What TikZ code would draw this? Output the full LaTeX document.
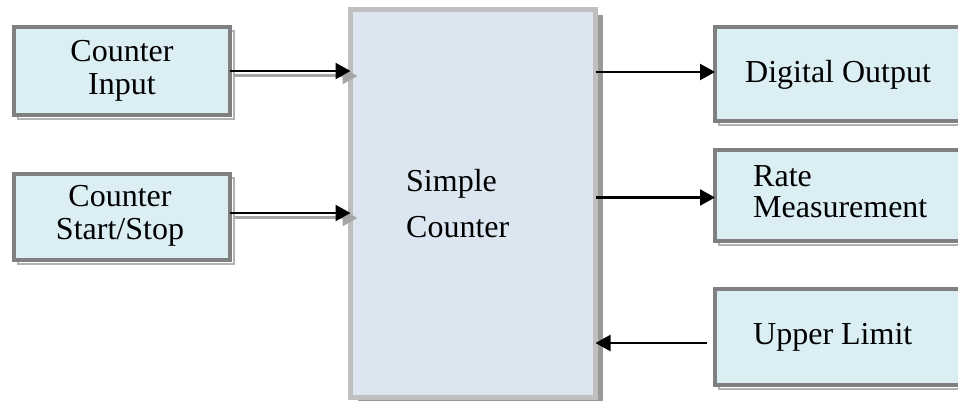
\documentclass[tikz,border=0pt]{standalone}
\usepackage{fontspec}
\setmainfont{Liberation Serif}
\usetikzlibrary{arrows.meta, shadows, calc}

\definecolor{boxfill}{RGB}{218,238,243}
\definecolor{mainfill}{RGB}{220,230,241}

\tikzset{
    iobox/.style={draw=black!50, line width=4pt, fill=boxfill, outer sep=0pt, inner sep=0pt,
        copy shadow={shadow xshift=4pt, shadow yshift=-4pt, draw=black!30, line width=1.5pt, fill=white}},
    mainbox/.style={draw=black!25, line width=5pt, fill=mainfill, outer sep=0pt, inner sep=0pt,
        general shadow={shadow xshift=7pt, shadow yshift=-6pt, fill=black!40}},
    lbl/.style={font=\fontsize{32}{33}\selectfont, inner sep=0pt},
    flow/.style={line width=2.2pt, -{Triangle[length=15pt, width=16pt]}},
    ghost/.style={line width=3pt, black!35, -{Triangle[length=15pt, width=16pt]}}
}

\begin{document}
\begin{tikzpicture}[x=1pt, y=1pt]
    \clip (0,0) rectangle (958,401);

    % Boxes
    \node[mainbox, minimum width=245pt, minimum height=388pt] (main) at (473,197.5) {};
    \node[iobox, minimum width=216pt, minimum height=88pt] (cin) at (122,330) {};
    \node[iobox, minimum width=216pt, minimum height=86pt] (css) at (122,184) {};
    \node[iobox, minimum width=260pt, minimum height=94pt] (dout) at (845,327) {};
    \node[iobox, minimum width=260pt, minimum height=91pt] (rate) at (845,205.5) {};
    \node[iobox, minimum width=260pt, minimum height=96pt] (upper) at (845,64) {};

    % Labels (base = last line)
    \node[lbl, align=center, anchor=base] (cin-t) at (122,306) {Counter\\Input};
    \node[lbl, align=center, anchor=base] (css-t) at (120,161) {Counter\\Start/Stop};
    \node[lbl, align=left, anchor=base west] (main-t) at (406,163) {Simple\\[13pt]Counter};
    \node[lbl, anchor=base west] (dout-t) at (745,318) {Digital Output};
    \node[lbl, align=left, anchor=base west] (rate-t) at (753,183) {Rate\\[-2pt]Measurement};
    \node[lbl, anchor=base west] (upper-t) at (753,56) {Upper Limit};

    % Inputs
    \draw[ghost] ($(cin.east)+(3,-5)$) -- ($(cin.east -| main.west)+(7,-5)$);
    \draw[flow] (cin.east) -- (cin.east -| main.west);
    \draw[ghost] ($(css.east)+(3,-1)$) -- ($(css.east -| main.west)+(7,-1)$);
    \draw[flow] ($(css.east)+(0,4)$) -- ($(css.east -| main.west)+(0,4)$);

    % Outputs
    \draw[flow] ($(main.east |- dout.west)+(0,2)$) -- ($(dout.west)+(0,2)$);
    \draw[flow] ($(main.east |- rate.west)+(0,-2)$) -- ($(rate.west)+(0,-2)$);
    \draw[flow] ($(upper.west)+(-8,-6)$) -- ($(main.east |- upper.west)+(0,-6)$);
\end{tikzpicture}
\end{document}
